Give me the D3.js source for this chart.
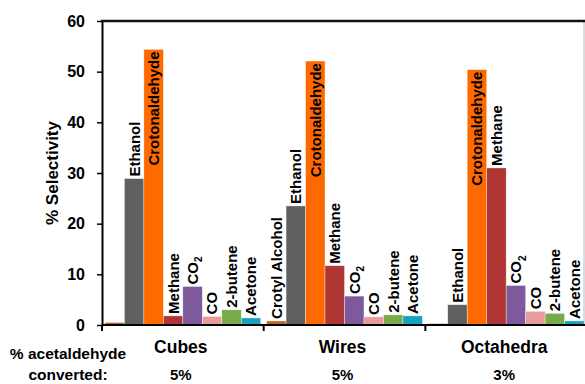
<!DOCTYPE html>
<html>
<head>
<meta charset="utf-8">
<script src="https://cdn.jsdelivr.net/npm/d3@7"></script>
<style>
  body { margin: 0; background: #fff; }
  svg { display: block; font-family: Arial, "Liberation Sans", sans-serif; font-weight: bold; }
</style>
</head>
<body>
<div id="chart"></div>
<script>
// Chart data
const categories = ['Cubes', 'Wires', 'Octahedra'];
const conversion = ['5%', '5%', '3%'];
const products = ['Crotyl Alcohol', 'Ethanol', 'Crotonaldehyde', 'Methane', 'CO2', 'CO', '2-butene', 'Acetone'];
const cubesValues = [0.5, 28.9, 54.4, 1.8, 7.6, 1.7, 3.0, 1.4];
const wiresValues = [0.8, 23.5, 52.1, 11.7, 5.7, 1.6, 2.0, 1.8];
const octahedraValues = [0.3, 4.0, 50.4, 31.0, 7.8, 2.7, 2.3, 0.8];
// which bars carry a label in each group
const cubesLabels = [false, true, true, true, true, true, true, true];
const wiresLabels = [true, true, true, true, true, true, true, true];
const octahedraLabels = [false, true, true, true, true, true, true, true];
const yTicks = [0, 10, 20, 30, 40, 50, 60];

const colors = ['#b8682c', '#606060', '#ff6a00', '#b03535', '#7e5a9c', '#e99a9a', '#78ab4a', '#17a3bf'];

const groups = categories.map((c, i) => ({
  name: c,
  conv: conversion[i],
  values: [cubesValues, wiresValues, octahedraValues][i],
  labels: [cubesLabels, wiresLabels, octahedraLabels][i]
}));

const W = 585, H = 384;
const plotLeft = 102, plotRight = 587, plotTop = 21, plotBottom = 325;

const svg = d3.select('#chart').append('svg')
  .attr('width', W)
  .attr('height', H);

// Scales
const x0 = d3.scaleBand().domain(categories).range([plotLeft, plotRight]).padding(0);
const x1 = d3.scaleBand().domain(products).range([0, x0.bandwidth()]).paddingInner(0).paddingOuter(0.15);
const y = d3.scaleLinear().domain([0, 60]).range([plotBottom, plotTop]);

// right frame edge (light)
svg.append('line')
  .attr('x1', 584).attr('x2', 584)
  .attr('y1', plotTop).attr('y2', plotBottom)
  .attr('stroke', '#d0d0d0').attr('stroke-width', 1.5);

// Bars
groups.forEach(g => {
  const gx = x0(g.name);
  const sel = svg.append('g').attr('transform', `translate(${gx},0)`);

  sel.selectAll('rect')
    .data(g.values)
    .join('rect')
    .attr('x', (d, i) => x1(products[i]))
    .attr('y', d => y(d))
    .attr('width', x1.bandwidth())
    .attr('height', d => y(0) - y(d))
    .attr('fill', (d, i) => colors[i])
    .attr('stroke', '#fff')
    .attr('stroke-opacity', 0.6)
    .attr('stroke-width', 0.6);

  // rotated labels
  g.values.forEach((v, i) => {
    if (!g.labels[i]) return;
    const cx = x1(products[i]) + x1.bandwidth() / 2;
    const inside = products[i] === 'Crotonaldehyde';
    const ty = inside ? y(v) + 2 : y(v) - 2;
    const t = sel.append('text')
      .attr('transform', `translate(${cx},${ty}) rotate(-90)`)
      .attr('dy', '0.36em')
      .attr('text-anchor', inside ? 'end' : 'start')
      .attr('font-size', 15)
      .attr('fill', '#000');
    if (products[i] === 'CO2') {
      t.append('tspan').text('CO');
      t.append('tspan').attr('font-size', 10).attr('dy', '0.45em').text('2');
    } else {
      t.text(products[i]);
    }
  });
});

// Y axis
const yAxis = d3.axisLeft(y)
  .tickValues(yTicks)
  .tickSize(5)
  .tickPadding(12)
  .tickSizeOuter(0);

const ya = svg.append('g')
  .attr('transform', `translate(${plotLeft},0)`)
  .call(yAxis);
ya.select('.domain').attr('stroke', '#000').attr('stroke-width', 2);
ya.selectAll('.tick line').attr('stroke', '#000').attr('stroke-width', 1.5);
ya.selectAll('.tick text')
  .attr('font-size', 16)
  .attr('font-family', 'Arial, "Liberation Sans", sans-serif')
  .attr('font-weight', 'bold')
  .attr('fill', '#000');

// extend y axis below baseline
svg.append('line')
  .attr('x1', plotLeft).attr('x2', plotLeft)
  .attr('y1', plotBottom).attr('y2', plotBottom + 6)
  .attr('stroke', '#000').attr('stroke-width', 2);

// top frame line
svg.append('line')
  .attr('x1', plotLeft - 1).attr('x2', W)
  .attr('y1', plotTop).attr('y2', plotTop)
  .attr('stroke', '#111').attr('stroke-width', 2.5);

// X axis line and category separators
svg.append('line')
  .attr('x1', plotLeft).attr('x2', W)
  .attr('y1', plotBottom).attr('y2', plotBottom)
  .attr('stroke', '#000').attr('stroke-width', 2);

svg.selectAll('.sep')
  .data(categories.slice(1))
  .join('line')
  .attr('x1', d => x0(d)).attr('x2', d => x0(d))
  .attr('y1', plotBottom).attr('y2', plotBottom + 6)
  .attr('stroke', '#000').attr('stroke-width', 2);

// Category names
svg.selectAll('.cat')
  .data(groups)
  .join('text')
  .attr('x', d => x0(d.name) + x0.bandwidth() / 2 - 2)
  .attr('y', 353)
  .attr('text-anchor', 'middle')
  .attr('font-size', 17.5)
  .text(d => d.name);

// Conversion values
svg.selectAll('.conv')
  .data(groups)
  .join('text')
  .attr('x', d => x0(d.name) + x0.bandwidth() / 2 - 2)
  .attr('y', 380)
  .attr('text-anchor', 'middle')
  .attr('font-size', 15)
  .text(d => d.conv);

// Row title
svg.append('text')
  .attr('x', 68).attr('y', 359)
  .attr('text-anchor', 'middle')
  .attr('font-size', 15.5)
  .text('% acetaldehyde');
svg.append('text')
  .attr('x', 68).attr('y', 380)
  .attr('text-anchor', 'middle')
  .attr('font-size', 15.5)
  .text('converted:');

// Y axis title
svg.append('text')
  .attr('transform', `translate(52,${(plotTop + plotBottom) / 2}) rotate(-90)`)
  .attr('dy', '0.35em')
  .attr('text-anchor', 'middle')
  .attr('font-size', 17)
  .text('% Selectivity');
</script>
</body>
</html>
